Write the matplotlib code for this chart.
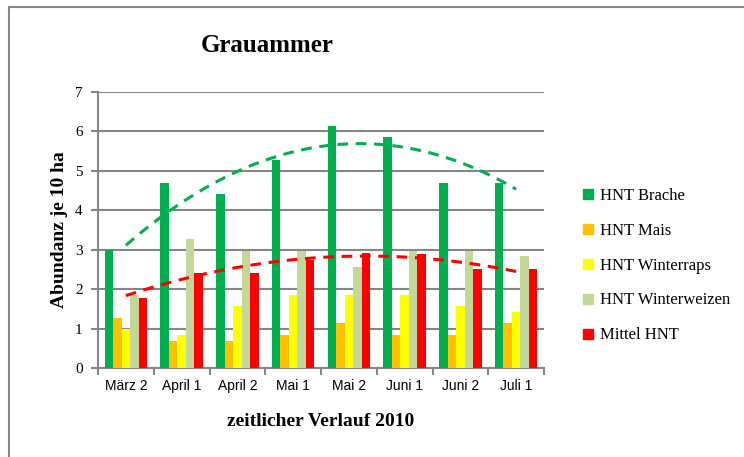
import numpy as np
import matplotlib
matplotlib.use("Agg")
import matplotlib.pyplot as plt
from matplotlib.lines import Line2D

# Daten
kategorien = ["März 2", "April 1", "April 2", "Mai 1", "Mai 2", "Juni 1", "Juni 2", "Juli 1"]
brache = [3.0, 4.7, 4.42, 5.28, 6.14, 5.86, 4.7, 4.7]
mais = [1.27, 0.69, 0.69, 0.84, 1.13, 0.84, 0.84, 1.13]
winterraps = [0.99, 0.84, 1.56, 1.84, 1.84, 1.84, 1.56, 1.42]
winterweizen = [1.84, 3.27, 2.98, 2.98, 2.55, 2.98, 2.98, 2.84]
mittel = [1.78, 2.4, 2.42, 2.73, 2.91, 2.88, 2.52, 2.52]

serien = [
    ("HNT Brache", brache, "#00B050"),
    ("HNT Mais", mais, "#FFC000"),
    ("HNT Winterraps", winterraps, "#FFFF00"),
    ("HNT Winterweizen", winterweizen, "#C4D79B"),
    ("Mittel HNT", mittel, "#FF0000"),
]

SERIF = "Liberation Serif"
SANS = "Liberation Sans"

fig = plt.figure(figsize=(7.44, 4.57), dpi=100)
ax = fig.add_axes([98 / 744, 1 - 368 / 457, 446 / 744, 276 / 457])

x = np.arange(len(kategorien))
bw = 0.152
for i, (name, vals, col) in enumerate(serien):
    ax.bar(x + (i - 2) * bw, vals, bw, color=col, label=name, zorder=3)

# polynomische Trendlinien (2. Ordnung) wie in Excel
xs = np.linspace(0, len(kategorien) - 1, 100)
for vals, col in [(brache, "#00B050"), (mittel, "#FF0000")]:
    p = np.polyfit(x + 1, vals, 2)
    ax.plot(xs, np.polyval(p, xs + 1), color=col, lw=2.2, ls=(0, (3.5, 2.5)), zorder=4)

ax.set_xlim(-0.5, len(kategorien) - 0.5)
ax.set_ylim(0, 7)
ax.set_yticks(range(8))
ax.set_xticks(x)
ax.set_xticklabels(kategorien, fontfamily=SANS, fontsize=10)
ax.set_xticks(np.arange(-0.5, len(kategorien)), minor=True)
ax.tick_params(axis="x", which="major", length=0, pad=8)
ax.tick_params(axis="x", which="minor", length=5, color="#868686", width=1.5)
ax.tick_params(axis="y", length=5, color="#868686", width=1.5, pad=6)
for lab in ax.get_yticklabels():
    lab.set_fontfamily(SERIF)
    lab.set_fontsize(11)

ax.grid(axis="y", color="#868686", lw=1.5, zorder=0)
for s in ["top", "right"]:
    ax.spines[s].set_visible(False)
for s in ["left", "bottom"]:
    ax.spines[s].set_color("#868686")
    ax.spines[s].set_linewidth(1.5)

ax.set_ylabel("Abundanz je 10 ha", fontfamily=SERIF, fontweight="bold", fontsize=14, labelpad=5)
ax.set_xlabel("zeitlicher Verlauf 2010", fontfamily=SERIF, fontweight="bold", fontsize=14, labelpad=14)

fig.text(267 / 744, 1 - 46 / 457, "Grauammer", fontfamily=SERIF, fontweight="bold",
         fontsize=18, ha="center", va="center")

handles = [Line2D([], [], marker="s", ls="", color=c, markersize=6.5) for _, _, c in serien]
fig.legend(handles, [n for n, _, _ in serien], loc="upper left",
           bbox_to_anchor=(567 / 744, 1 - 173 / 457), frameon=False,
           prop={"family": SERIF, "size": 12}, labelspacing=1.13,
           handlelength=0.7, handletextpad=0.35)

# Rahmen des Diagrammbereichs
fig.add_artist(Line2D([9 / 744, 9 / 744], [0, 1 - 7 / 457], color="#888888", lw=1.5))
fig.add_artist(Line2D([9 / 744, 1], [1 - 7 / 457, 1 - 7 / 457], color="#888888", lw=1.5))

fig.savefig("out.png", dpi=100)
